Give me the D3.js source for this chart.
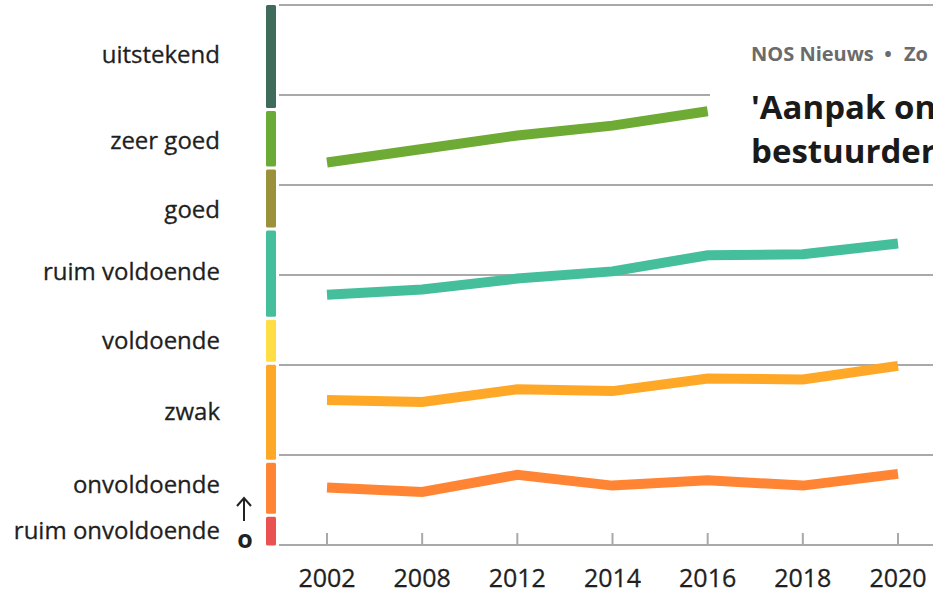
<!DOCTYPE html>
<html>
<head>
<meta charset="utf-8">
<script src="https://cdn.jsdelivr.net/npm/d3@7"></script>
<style>
  body { margin: 0; background: #fff; }
  #main svg { display: block; }
</style>
</head>
<body>
<div id="main"></div>
<script>
const ctx = {
    w: 933,
    h: 594,
};

// jaren op de x-as
const years = ["2002", "2008", "2012", "2014", "2016", "2018", "2020"];

// lijnen (schaal 0..6)
const zeerGoedLine = [4.25, 4.40, 4.55, 4.66, 4.82, null, null];
const ruimVoldoendeLine = [2.78, 2.84, 2.96, 3.04, 3.22, 3.23, 3.35];
const zwakLine = [1.61, 1.59, 1.73, 1.71, 1.85, 1.84, 1.99];
const onvoldoendeLine = [0.64, 0.59, 0.78, 0.66, 0.72, 0.66, 0.79];

// oordelen op de linkerkant
const bandLabels = ["uitstekend", "zeer goed", "goed", "ruim voldoende", "voldoende", "zwak", "onvoldoende", "ruim onvoldoende"];
const bandTops = [6, 4.84, 4.19, 3.51, 2.52, 2.02, 0.93, 0.33];
const bandColors = ["#3f6b5b", "#6aab37", "#9b913a", "#45bf9b", "#ffdd45", "#ffa726", "#ff8534", "#ea5252"];
// waar het label staat (schaalwaarde)
const labelPos = [5.45, 4.49, 3.73, 3.04, 2.27, 1.48, 0.67, 0.16];

const gridTicks = [0, 1, 2, 3, 4, 5, 6];

function createChart(svgEl) {
    const x = d3.scalePoint().domain(years).range([327, 898]);
    const y = d3.scaleLinear().domain([0, 6]).range([545, 5]);

    // rasterlijnen
    svgEl.append("g").selectAll("line")
        .data(gridTicks)
        .enter().append("line")
        .attr("x1", 279).attr("x2", ctx.w)
        .attr("y1", d => y(d)).attr("y2", d => y(d))
        .attr("stroke", "#a9a9a9")
        .attr("stroke-width", 2);

    // kleurbalk
    const bands = bandTops.map((t, i) => ({
        label: bandLabels[i],
        top: t,
        bottom: i + 1 < bandTops.length ? bandTops[i + 1] : 0,
        color: bandColors[i],
        pos: labelPos[i]
    }));
    svgEl.append("g").selectAll("rect")
        .data(bands)
        .enter().append("rect")
        .attr("x", 266)
        .attr("width", 10)
        .attr("y", d => y(d.top) + (d.top === 6 ? 0 : 1.5))
        .attr("height", d => y(d.bottom) - y(d.top) - (d.top === 6 ? 1.5 : 3) + (d.bottom === 0 ? 2 : 0))
        .attr("rx", 1.5)
        .attr("fill", d => d.color);

    svgEl.append("g").selectAll("text")
        .data(bands)
        .enter().append("text")
        .attr("x", 220)
        .attr("y", d => y(d.pos))
        .attr("dy", "0.35em")
        .attr("text-anchor", "end")
        .attr("font-family", "Open Sans")
        .attr("font-size", 24)
        .attr("fill", "#1f1f1f")
        .attr("stroke", "#1f1f1f")
        .attr("stroke-width", 0.3)
        .text(d => d.label);

    // pijltje bij 0
    svgEl.append("line")
        .attr("x1", 244).attr("x2", 244)
        .attr("y1", 521).attr("y2", 499)
        .attr("stroke", "#222").attr("stroke-width", 2);
    svgEl.append("path")
        .attr("d", "M237,506 L244,498 L251,506")
        .attr("fill", "none")
        .attr("stroke", "#222").attr("stroke-width", 2);
    svgEl.append("text")
        .attr("x", 245).attr("y", 548)
        .attr("text-anchor", "middle")
        .attr("font-family", "Open Sans")
        .attr("font-weight", 700)
        .attr("font-size", 25)
        .attr("fill", "#222")
        .text("o");

    // x-as
    const xAxis = svgEl.append("g");
    xAxis.selectAll("line")
        .data(years)
        .enter().append("line")
        .attr("x1", d => x(d)).attr("x2", d => x(d))
        .attr("y1", y(0)).attr("y2", y(0) - 12)
        .attr("stroke", "#a9a9a9")
        .attr("stroke-width", 2);
    xAxis.selectAll("text")
        .data(years)
        .enter().append("text")
        .attr("x", d => x(d))
        .attr("y", 587)
        .attr("text-anchor", "middle")
        .attr("font-family", "Open Sans")
        .attr("font-size", 25)
        .attr("fill", "#1f1f1f")
        .attr("stroke", "#1f1f1f")
        .attr("stroke-width", 0.3)
        .text(d => d);

    // lijnen
    const series = [
        { values: zeerGoedLine, color: "#6eab34" },
        { values: ruimVoldoendeLine, color: "#45bf9b" },
        { values: zwakLine, color: "#ffa827" },
        { values: onvoldoendeLine, color: "#ff8534" },
    ];
    const line = d3.line()
        .defined(d => d.v !== null)
        .x(d => x(d.year))
        .y(d => y(d.v));
    svgEl.append("g").selectAll("path")
        .data(series)
        .enter().append("path")
        .attr("d", s => line(s.values.map((v, i) => ({ year: years[i], v: v }))))
        .attr("fill", "none")
        .attr("stroke", s => s.color)
        .attr("stroke-width", 10)
        .attr("stroke-linejoin", "miter");

    // nieuwskaartje rechtsboven
    const card = svgEl.append("g");
    card.append("rect")
        .attr("x", 710).attr("y", 7)
        .attr("width", ctx.w - 710).attr("height", 176)
        .attr("fill", "#fff");
    const meta = [
        { t: "NOS Nieuws", x: 751, anchor: "start" },
        { t: "•", x: 888, anchor: "middle" },
        { t: "Zo", x: 904, anchor: "start" },
    ];
    card.selectAll("text.meta")
        .data(meta)
        .enter().append("text")
        .attr("class", "meta")
        .attr("x", d => d.x).attr("y", 61)
        .attr("text-anchor", d => d.anchor)
        .attr("font-family", "Open Sans")
        .attr("font-weight", 700)
        .attr("font-size", 20)
        .attr("fill", "#6b6b6b")
        .text(d => d.t);
    card.append("text")
        .attr("x", 751).attr("y", 119)
        .attr("font-family", "Open Sans")
        .attr("font-weight", 700)
        .attr("font-size", 33)
        .attr("fill", "#1a1a1a")
        .text("'Aanpak on");
    card.append("text")
        .attr("x", 751).attr("y", 163)
        .attr("font-family", "Open Sans")
        .attr("font-weight", 700)
        .attr("font-size", 33)
        .attr("fill", "#1a1a1a")
        .text("bestuurder");
}

function createViz() {
    const svgEl = d3.select("#main").append("svg")
        .attr("width", ctx.w)
        .attr("height", ctx.h);
    createChart(svgEl);
}

createViz();
</script>
</body>
</html>
